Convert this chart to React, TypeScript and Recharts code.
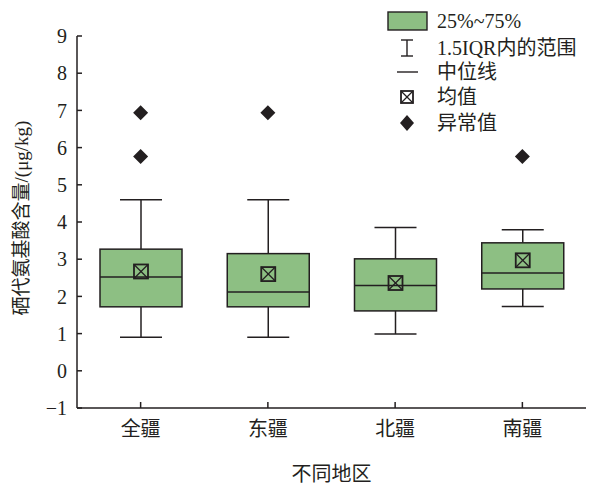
import React from "react";
import {
  ComposedChart,
  Bar,
  Scatter,
  XAxis,
  YAxis,
  Customized,
} from "recharts";

const REGIONS = ["全疆", "东疆", "北疆", "南疆"];
const WHISKER_LOW = [0.9, 0.9, 0.99, 1.73];
const Q1 = [1.72, 1.72, 1.61, 2.2];
const MEDIAN = [2.52, 2.12, 2.29, 2.63];
const Q3 = [3.27, 3.15, 3.01, 3.44];
const WHISKER_HIGH = [4.6, 4.6, 3.85, 3.79];
const MEANS = [2.67, 2.6, 2.36, 2.97];
const OUTLIER_A: (number | null)[] = [6.94, 6.94, null, 5.76];
const OUTLIER_B: (number | null)[] = [5.76, null, null, null];
const Y_TICKS = [-1, 0, 1, 2, 3, 4, 5, 6, 7, 8, 9];

const LEGEND_LABELS = ["25%~75%", "1.5IQR内的范围", "中位线", "均值", "异常值"];

const GREEN = "#8dbf83";
const INK = "#231f20";
const FONT = "'Liberation Serif', 'Noto Sans CJK SC', serif";

const data = REGIONS.map((name, i) => ({
  name,
  range: [WHISKER_LOW[i], WHISKER_HIGH[i]],
  lo: WHISKER_LOW[i],
  hi: WHISKER_HIGH[i],
  q1: Q1[i],
  med: MEDIAN[i],
  q3: Q3[i],
  mean: MEANS[i],
  outA: OUTLIER_A[i],
  outB: OUTLIER_B[i],
}));

function MeanMark({ cx, cy, s = 7 }: { cx: number; cy: number; s?: number }) {
  return (
    <g>
      <rect x={cx - s} y={cy - s} width={s * 2} height={s * 2} fill="none" stroke={INK} strokeWidth={1.8} />
      <line x1={cx - s} y1={cy - s} x2={cx + s} y2={cy + s} stroke={INK} strokeWidth={1.3} />
      <line x1={cx + s} y1={cy - s} x2={cx - s} y2={cy + s} stroke={INK} strokeWidth={1.3} />
    </g>
  );
}

function BoxShape(props: any) {
  const { x, y, width, height, payload } = props;
  if (payload == null || height == null) return null;
  const top = Math.min(y, y + height);
  const h = Math.abs(height);
  const unit = h / (payload.hi - payload.lo);
  const py = (v: number) => top + (payload.hi - v) * unit;
  const cx = x + width / 2;
  const cap = 21;
  return (
    <g>
      <line x1={cx} y1={py(payload.hi)} x2={cx} y2={py(payload.q3)} stroke={INK} strokeWidth={1.5} />
      <line x1={cx} y1={py(payload.q1)} x2={cx} y2={py(payload.lo)} stroke={INK} strokeWidth={1.5} />
      <line x1={cx - cap} y1={py(payload.hi)} x2={cx + cap} y2={py(payload.hi)} stroke={INK} strokeWidth={1.5} />
      <line x1={cx - cap} y1={py(payload.lo)} x2={cx + cap} y2={py(payload.lo)} stroke={INK} strokeWidth={1.5} />
      <rect
        x={x}
        y={py(payload.q3)}
        width={width}
        height={py(payload.q1) - py(payload.q3)}
        fill={GREEN}
        stroke={INK}
        strokeWidth={1.5}
      />
      <line x1={x} y1={py(payload.med)} x2={x + width} y2={py(payload.med)} stroke={INK} strokeWidth={1.5} />
      <MeanMark cx={cx} cy={py(payload.mean)} />
    </g>
  );
}

function makeDiamond(key: "outA" | "outB") {
  return (props: any) => {
    const { cx, cy, payload } = props;
    if (!payload || payload[key] == null || cx == null || cy == null || isNaN(cy)) return <g />;
    const r = 7.5;
    return <path d={`M${cx},${cy - r}L${cx + r},${cy}L${cx},${cy + r}L${cx - r},${cy}Z`} fill={INK} />;
  };
}

function LegendBlock() {
  const tx = 437;
  const rows = [21, 48, 72, 97, 123];
  const ix = 407;
  return (
    <g fontFamily={FONT} fontSize={20} fill={INK}>
      <rect x={388} y={12} width={39} height={18} fill={GREEN} stroke={INK} strokeWidth={1.4} />
      <line x1={ix} y1={40} x2={ix} y2={56} stroke={INK} strokeWidth={1.4} />
      <line x1={ix - 6} y1={40} x2={ix + 6} y2={40} stroke={INK} strokeWidth={1.4} />
      <line x1={ix - 6} y1={56} x2={ix + 6} y2={56} stroke={INK} strokeWidth={1.4} />
      <line x1={397} y1={72} x2={418} y2={72} stroke={INK} strokeWidth={1.4} />
      <MeanMark cx={ix} cy={97} s={6} />
      <path d={`M${ix},${115}L${ix + 7},${123}L${ix},${131}L${ix - 7},${123}Z`} fill={INK} />
      {LEGEND_LABELS.map((t, i) => (
        <text key={t} x={tx} y={rows[i]} dominantBaseline="central">
          {t}
        </text>
      ))}
    </g>
  );
}

export default function App() {
  return (
    <div style={{ position: "absolute", left: 0, top: 0, background: "#fff" }}>
      <ComposedChart
        width={592}
        height={489}
        data={data}
        margin={{ top: 36, right: 6, left: 0, bottom: 0 }}
      >
        <XAxis
          dataKey="name"
          height={81}
          axisLine={{ stroke: INK, strokeWidth: 1.5 }}
          tickLine={{ stroke: INK, strokeWidth: 1.5 }}
          tickSize={-6}
          tickMargin={20}
          tick={{ fill: INK, fontSize: 20, fontFamily: FONT }}
          label={{
            content: (p: any) => {
              const vb = p.viewBox;
              return (
                <text
                  x={vb.x + vb.width / 2}
                  y={vb.y + 66}
                  textAnchor="middle"
                  dominantBaseline="central"
                  fontSize={20}
                  fontFamily={FONT}
                  fill={INK}
                >
                  不同地区
                </text>
              );
            },
          }}
        />
        <YAxis
          width={77}
          domain={[-1, 9]}
          ticks={Y_TICKS}
          interval={0}
          allowDataOverflow
          axisLine={{ stroke: INK, strokeWidth: 1.5 }}
          tickLine={{ stroke: INK, strokeWidth: 1.5 }}
          tickSize={-5}
          tickMargin={15}
          tick={{ fill: INK, fontSize: 20, fontFamily: FONT }}
          tickFormatter={(v: number) => (v < 0 ? `\u2212${Math.abs(v)}` : `${v}`)}
          label={{
            content: (p: any) => {
              const vb = p.viewBox;
              const cx = vb.x + 21;
              const cy = vb.y + vb.height / 2 - 4;
              return (
                <text
                  x={cx}
                  y={cy}
                  transform={`rotate(-90, ${cx}, ${cy})`}
                  textAnchor="middle"
                  dominantBaseline="central"
                  fontSize={19}
                  fontFamily={FONT}
                  fill={INK}
                >
                  硒代氨基酸含量/(μg/kg)
                </text>
              );
            },
          }}
        />
        <Bar dataKey="range" barSize={82} shape={<BoxShape />} isAnimationActive={false} />
        <Scatter dataKey="outA" shape={makeDiamond("outA")} isAnimationActive={false} />
        <Scatter dataKey="outB" shape={makeDiamond("outB")} isAnimationActive={false} />
        <Customized component={LegendBlock} />
      </ComposedChart>
    </div>
  );
}
